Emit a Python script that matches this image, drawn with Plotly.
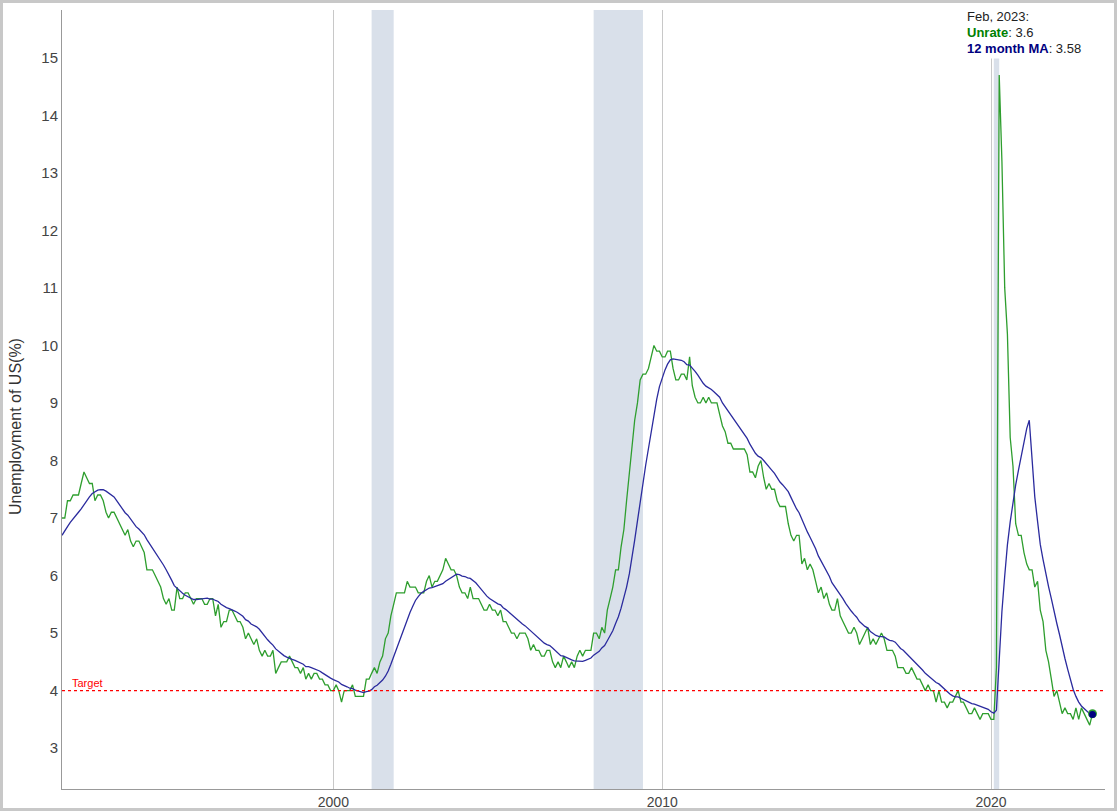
import plotly.graph_objects as go
import pandas as pd

# US unemployment rate (%), monthly, Jan 1990 - Feb 2023
start_month = '1990-01-01'
unrate = [
    5.4, 5.3, 5.2, 5.4, 5.4, 5.2, 5.5, 5.7, 5.9, 5.9, 6.2, 6.3,  # 1990
    6.4, 6.6, 6.8, 6.7, 6.9, 6.9, 6.8, 6.9, 6.9, 7.0, 7.0, 7.3,  # 1991
    7.3, 7.4, 7.4, 7.4, 7.6, 7.8, 7.7, 7.6, 7.6, 7.3, 7.4, 7.4,  # 1992
    7.3, 7.1, 7.0, 7.1, 7.1, 7.0, 6.9, 6.8, 6.7, 6.8, 6.6, 6.5,  # 1993
    6.6, 6.6, 6.5, 6.4, 6.1, 6.1, 6.1, 6.0, 5.9, 5.8, 5.6, 5.5,  # 1994
    5.6, 5.4, 5.4, 5.8, 5.6, 5.6, 5.7, 5.7, 5.6, 5.5, 5.6, 5.6,  # 1995
    5.6, 5.5, 5.5, 5.6, 5.6, 5.3, 5.5, 5.1, 5.2, 5.2, 5.4, 5.4,  # 1996
    5.3, 5.2, 5.2, 5.1, 4.9, 5.0, 4.9, 4.8, 4.9, 4.7, 4.6, 4.7,  # 1997
    4.6, 4.6, 4.7, 4.3, 4.4, 4.5, 4.5, 4.5, 4.6, 4.5, 4.4, 4.4,  # 1998
    4.3, 4.4, 4.2, 4.3, 4.2, 4.3, 4.3, 4.2, 4.2, 4.1, 4.1, 4.0,  # 1999
    4.0, 4.1, 4.0, 3.8, 4.0, 4.0, 4.0, 4.1, 3.9, 3.9, 3.9, 3.9,  # 2000
    4.2, 4.2, 4.3, 4.4, 4.3, 4.5, 4.6, 4.9, 5.0, 5.3, 5.5, 5.7,  # 2001
    5.7, 5.7, 5.7, 5.9, 5.8, 5.8, 5.8, 5.7, 5.7, 5.7, 5.9, 6.0,  # 2002
    5.8, 5.9, 5.9, 6.0, 6.1, 6.3, 6.2, 6.1, 6.1, 6.0, 5.8, 5.7,  # 2003
    5.7, 5.6, 5.8, 5.6, 5.6, 5.6, 5.5, 5.4, 5.4, 5.5, 5.4, 5.4,  # 2004
    5.3, 5.4, 5.2, 5.2, 5.1, 5.0, 5.0, 4.9, 5.0, 5.0, 5.0, 4.9,  # 2005
    4.7, 4.8, 4.7, 4.7, 4.6, 4.6, 4.7, 4.7, 4.5, 4.4, 4.5, 4.4,  # 2006
    4.6, 4.5, 4.4, 4.5, 4.4, 4.6, 4.7, 4.6, 4.7, 4.7, 4.7, 5.0,  # 2007
    5.0, 4.9, 5.1, 5.0, 5.4, 5.6, 5.8, 6.1, 6.1, 6.5, 6.8, 7.3,  # 2008
    7.8, 8.3, 8.7, 9.0, 9.4, 9.5, 9.5, 9.6, 9.8, 10.0, 9.9, 9.9,  # 2009
    9.8, 9.8, 9.9, 9.9, 9.6, 9.4, 9.4, 9.5, 9.5, 9.4, 9.8, 9.3,  # 2010
    9.1, 9.0, 9.0, 9.1, 9.0, 9.1, 9.0, 9.0, 9.0, 8.8, 8.6, 8.5,  # 2011
    8.3, 8.3, 8.2, 8.2, 8.2, 8.2, 8.2, 8.1, 7.8, 7.8, 7.7, 7.9,  # 2012
    8.0, 7.7, 7.5, 7.6, 7.5, 7.5, 7.3, 7.2, 7.2, 7.2, 6.9, 6.7,  # 2013
    6.6, 6.7, 6.7, 6.2, 6.3, 6.1, 6.2, 6.1, 5.9, 5.7, 5.8, 5.6,  # 2014
    5.7, 5.5, 5.4, 5.4, 5.6, 5.3, 5.2, 5.1, 5.0, 5.0, 5.1, 5.0,  # 2015
    4.8, 4.9, 5.0, 5.1, 4.8, 4.9, 4.8, 4.9, 5.0, 4.9, 4.7, 4.7,  # 2016
    4.7, 4.6, 4.4, 4.4, 4.4, 4.3, 4.3, 4.4, 4.3, 4.2, 4.2, 4.1,  # 2017
    4.0, 4.1, 4.0, 4.0, 3.8, 4.0, 3.8, 3.8, 3.7, 3.8, 3.8, 3.9,  # 2018
    4.0, 3.8, 3.8, 3.7, 3.6, 3.6, 3.7, 3.6, 3.5, 3.6, 3.6, 3.6,  # 2019
    3.5, 3.5, 4.4, 14.7, 13.2, 11.0, 10.2, 8.4, 7.9, 6.9, 6.7, 6.7,  # 2020
    6.4, 6.2, 6.1, 6.1, 5.8, 5.9, 5.4, 5.2, 4.7, 4.5, 4.2, 3.9,  # 2021
    4.0, 3.8, 3.6, 3.7, 3.6, 3.6, 3.5, 3.7, 3.5, 3.7, 3.6, 3.5,  # 2022
    3.4, 3.6,  # 2023
]

# NBER recessions (start, end)
recessions = [('2001-03-01', '2001-11-01'),
              ('2007-12-01', '2009-06-01'),
              ('2020-02-01', '2020-04-01')]

target = 4
x_range = ['1991-10-01', '2023-06-20']
y_range = [2.29, 15.83]

df = pd.DataFrame({'unrate': unrate},
                  index=pd.date_range(start_month, periods=len(unrate), freq='MS'))
df['ma12'] = df['unrate'].rolling(12).mean()
df = df[df.index >= '1991-10-01']

last = df.index[-1]
last_rate = df['unrate'].iloc[-1]
last_ma = df['ma12'].iloc[-1]

font = 'Liberation Sans, Arial, sans-serif'

W, H = 1117, 811
ml, mr, mt, mb = 62, 12, 10, 22
pw, ph = W - ml - mr, H - mt - mb


def px_x(px):
    return (px - ml) / pw


def px_y(py):
    return (H - mb - py) / ph


fig = go.Figure()

fig.add_trace(go.Scatter(x=df.index, y=df['unrate'], mode='lines', name='Unrate',
                         line=dict(color='#2e9e2e', width=1.3)))
fig.add_trace(go.Scatter(x=df.index, y=df['ma12'], mode='lines', name='12 month MA',
                         line=dict(color='#2b2b9e', width=1.3)))

# highlighted last values
fig.add_trace(go.Scatter(x=[last], y=[last_rate], mode='markers',
                         marker=dict(color='#2e9e2e', size=9), hoverinfo='skip'))
fig.add_trace(go.Scatter(x=[last], y=[last_ma], mode='markers',
                         marker=dict(color='#000080', size=7), hoverinfo='skip'))

for s, e in recessions:
    fig.add_shape(type='rect', xref='x', yref='paper', x0=s, x1=e, y0=0, y1=1,
                  fillcolor='#d9e0ea', line_width=0, layer='below')

fig.add_shape(type='line', xref='paper', yref='y', x0=0, x1=1, y0=target, y1=target,
              line=dict(color='red', width=1.3, dash='dot'))
fig.add_annotation(xref='paper', yref='y', x=0.008, y=target, text='Target',
                   showarrow=False, xanchor='left', yanchor='bottom',
                   font=dict(family=font, size=11, color='red'))

# last value read-out, one line per annotation
lines = [f"{last:%b, %Y}:",
         f"<b><span style='color:green'>Unrate</span></b>: {last_rate:.1f}",
         f"<b><span style='color:navy'>12 month MA</span></b>: {last_ma:.2f}"]
for txt, cy in zip(lines, [17, 32.5, 48]):
    fig.add_annotation(xref='paper', yref='paper', x=px_x(964), y=px_y(cy), text=txt,
                       showarrow=False, xanchor='left', yanchor='middle', align='left',
                       bgcolor='white', borderpad=2,
                       font=dict(family=font, size=13, color='#222'))

# y axis title, placed by hand
fig.add_annotation(xref='paper', yref='paper', x=px_x(15), y=px_y(427),
                   text='Unemployment of US(%)', textangle=-90, showarrow=False,
                   xanchor='center', yanchor='middle',
                   font=dict(family=font, size=16, color='#333'))

# outer frame of the picture
fig.add_shape(type='rect', xref='paper', yref='paper',
              x0=px_x(1.5), x1=px_x(W - 1.5), y0=px_y(H - 1.5), y1=px_y(1.5),
              line=dict(color='#c8c8c8', width=3))

fig.update_layout(
    width=W, height=H,
    margin=dict(l=ml, r=mr, t=mt, b=mb, autoexpand=False),
    paper_bgcolor='white', plot_bgcolor='white',
    showlegend=False,
    font=dict(family=font, size=15, color='#444'),
    hovermode=False,
)
fig.update_xaxes(range=x_range, showline=True, linecolor='#999', linewidth=1,
                 showgrid=True, gridcolor='#c8c8c8', dtick='M120', tick0='2000-01-01',
                 tickformat='%Y', ticks='', zeroline=False, tickfont=dict(size=14),
                 automargin=False)
fig.update_yaxes(range=y_range, showline=True, linecolor='#999', linewidth=1,
                 showgrid=False, dtick=1, ticks='', zeroline=False, automargin=False)

fig.write_html("out.html", config={'displayModeBar': False},
               post_script="document.body.style.margin='0';document.body.style.overflow='hidden';")
